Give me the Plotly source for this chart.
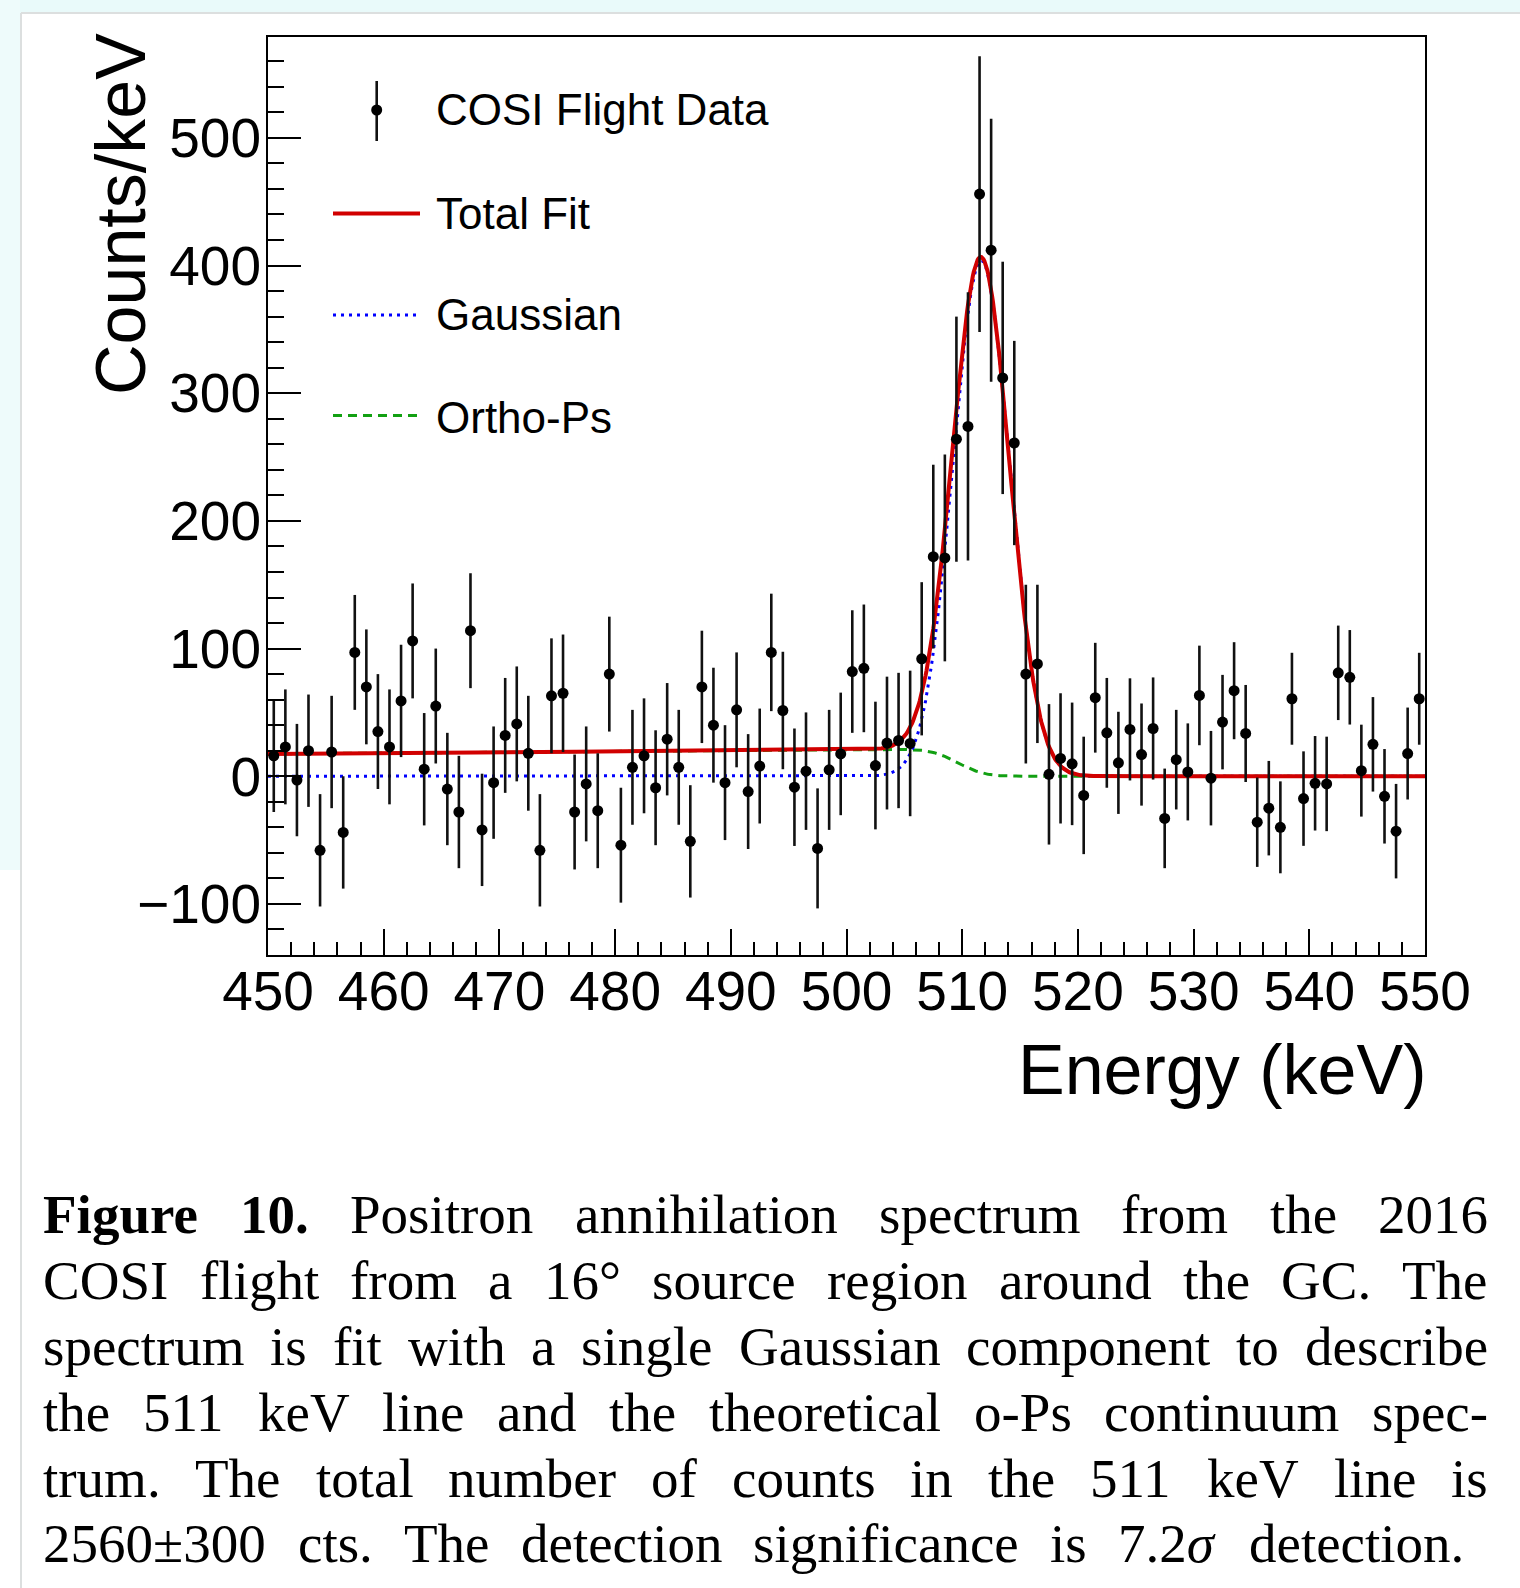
import math
import numpy as np
import plotly.graph_objects as go

# ---------------------------------------------------------------------------
# Spectrum data: background-subtracted counts per 1 keV bin
# ---------------------------------------------------------------------------
energy_kev = [
    450.5, 451.5, 452.5, 453.5, 454.5, 455.5, 456.5, 457.5, 458.5, 459.5,
    460.5, 461.5, 462.5, 463.5, 464.5, 465.5, 466.5, 467.5, 468.5, 469.5,
    470.5, 471.5, 472.5, 473.5, 474.5, 475.5, 476.5, 477.5, 478.5, 479.5,
    480.5, 481.5, 482.5, 483.5, 484.5, 485.5, 486.5, 487.5, 488.5, 489.5,
    490.5, 491.5, 492.5, 493.5, 494.5, 495.5, 496.5, 497.5, 498.5, 499.5,
    500.5, 501.5, 502.5, 503.5, 504.5, 505.5, 506.5, 507.5, 508.5, 509.5,
    510.5, 511.5, 512.5, 513.5, 514.5, 515.5, 516.5, 517.5, 518.5, 519.5,
    520.5, 521.5, 522.5, 523.5, 524.5, 525.5, 526.5, 527.5, 528.5, 529.5,
    530.5, 531.5, 532.5, 533.5, 534.5, 535.5, 536.5, 537.5, 538.5, 539.5,
    540.5, 541.5, 542.5, 543.5, 544.5, 545.5, 546.5, 547.5, 548.5, 549.5,
]

counts_per_kev = [
    16, 23, -3, 20, -58, 19, -44, 97, 70, 35,
    23, 59, 106, 5.5, 55, -10, -28, 114, -42, -5,
    32, 41, 18, -58, 63, 65, -28, -6, -27, 80,
    -54, 7, 16, -9, 29, 7, -51, 70, 40, -5,
    52, -12, 8, 97, 51.5, -8.6, 4, -56.5, 5, 17.5,
    82, 84.5, 8.4, 26, 28, 25.7, 92, 172, 171, 264,
    274, 456, 412, 312, 261, 80, 88, 1.5, 14, 9.7,
    -15, 61.5, 34, 10.5, 36.7, 17, 37.4, -33, 13, 3.4,
    63.3, -1.5, 42.4, 67, 33.5, -36, -25, -40, 60.7, -17.5,
    -5.5, -6, 81, 77.5, 4.4, 25, -15.7, -43, 17.8, 60.7,
]

count_errors = [
    44, 45, 44, 44, 44, 44, 44, 45, 45, 45,
    45, 44, 45, 44, 45, 44, 44, 45, 44, 44,
    45, 45, 45, 44, 45, 46, 45, 45, 45, 45,
    45, 45, 45, 45, 44, 45, 44, 44, 45, 45,
    45, 45, 45, 46, 46, 46, 46, 47, 47, 48,
    48, 50, 50, 52, 53, 57, 60, 72, 81, 96,
    105, 108, 103, 91, 80, 70, 62, 55, 51, 48,
    46, 43, 43, 40, 40, 40, 40, 39, 39, 38,
    39, 37, 37, 38, 38, 35, 37, 36, 36, 37,
    37, 37, 37, 37, 36, 37, 37, 37, 36, 36,
]

# Fit results
GAUSS_AMP = 404.0        # counts/keV
GAUSS_MEAN = 511.64      # keV
GAUSS_SIGMA = 2.45       # keV
OPS_LEVEL_450 = 17.5     # o-Ps continuum level at 450 keV
OPS_SLOPE = 0.065        # counts/keV per keV
OPS_EDGE = 509.6         # keV, resolution-smeared cutoff
OPS_EDGE_WIDTH = 1.8     # keV

x_axis_ticks = [450, 460, 470, 480, 490, 500, 510, 520, 530, 540, 550]
y_axis_ticks = [-100, 0, 100, 200, 300, 400, 500]

# ---------------------------------------------------------------------------
# Fit model curves
# ---------------------------------------------------------------------------
e_grid = np.linspace(450.0, 550.0, 1201)
gauss = GAUSS_AMP * np.exp(-0.5 * ((e_grid - GAUSS_MEAN) / GAUSS_SIGMA) ** 2)
ops = np.array([
    (OPS_LEVEL_450 + OPS_SLOPE * (e - 450.0))
    * 0.5 * math.erfc((e - OPS_EDGE) / (math.sqrt(2.0) * OPS_EDGE_WIDTH))
    for e in e_grid
])
total = gauss + ops

# ---------------------------------------------------------------------------
# Figure geometry (pixels)
# ---------------------------------------------------------------------------
FIG_W, FIG_H = 1520, 1588
L, T, PW, PH = 268, 37, 1157, 918
R = FIG_W - L - PW
B = FIG_H - T - PH


def px(x):
    return (x - L) / PW


def py(y):
    return (T + PH - y) / PH


AX_FONT = "Liberation Sans, Arial, Helvetica, sans-serif"
CAP_FONT = "Liberation Serif, Times New Roman, serif"

RED = "#d10000"
BLUE = "#0000ff"
GREEN = "#12a012"

fig = go.Figure()

fig.add_trace(go.Scatter(
    x=e_grid, y=ops, mode="lines",
    line=dict(color=GREEN, width=3, dash="9px,6px"),
    hoverinfo="skip", showlegend=False,
))
fig.add_trace(go.Scatter(
    x=e_grid, y=gauss, mode="lines",
    line=dict(color=BLUE, width=3, dash="3px,5px"),
    hoverinfo="skip", showlegend=False,
))
fig.add_trace(go.Scatter(
    x=e_grid, y=total, mode="lines",
    line=dict(color=RED, width=4),
    hoverinfo="skip", showlegend=False,
))
fig.add_trace(go.Scatter(
    x=energy_kev, y=counts_per_kev, mode="markers",
    marker=dict(color="black", size=11, line=dict(width=0)),
    error_y=dict(type="data", array=count_errors, visible=True,
                 color="#111111", thickness=2.6, width=0),
    showlegend=False,
))

shapes = []
annotations = []

# page backdrop
shapes.append(dict(type="rect", xref="paper", yref="paper",
                   x0=px(0), x1=px(FIG_W), y0=py(0), y1=py(13),
                   fillcolor="#e9fafa", line=dict(width=0), layer="below"))
shapes.append(dict(type="rect", xref="paper", yref="paper",
                   x0=px(0), x1=px(20), y0=py(0), y1=py(870),
                   fillcolor="#eefbfb", line=dict(width=0), layer="below"))
shapes.append(dict(type="line", xref="paper", yref="paper",
                   x0=px(21), x1=px(21), y0=py(13), y1=py(FIG_H),
                   line=dict(color="#dcdfdf", width=2), layer="below"))
shapes.append(dict(type="line", xref="paper", yref="paper",
                   x0=px(21), x1=px(FIG_W), y0=py(13), y1=py(13),
                   line=dict(color="#dcdfdf", width=2), layer="below"))

# ---------------------------------------------------------------------------
# Legend, drawn by hand to keep the wide symbol samples
# ---------------------------------------------------------------------------
# data entry: marker with error bar
shapes.append(dict(type="line", xref="paper", yref="paper",
                   x0=px(376.7), x1=px(376.7), y0=py(81), y1=py(141),
                   line=dict(color="#111111", width=2.6)))
shapes.append(dict(type="circle", xref="paper", yref="paper",
                   x0=px(371.2), x1=px(382.2), y0=py(104.5), y1=py(115.5),
                   fillcolor="black", line=dict(width=0)))
# line entries
shapes.append(dict(type="line", xref="paper", yref="paper",
                   x0=px(333), x1=px(420), y0=py(213.5), y1=py(213.5),
                   line=dict(color=RED, width=4)))
shapes.append(dict(type="line", xref="paper", yref="paper",
                   x0=px(333), x1=px(420), y0=py(315), y1=py(315),
                   line=dict(color=BLUE, width=3, dash="3px,5px")))
shapes.append(dict(type="line", xref="paper", yref="paper",
                   x0=px(333), x1=px(420), y0=py(415.5), y1=py(415.5),
                   line=dict(color=GREEN, width=3, dash="9px,6px")))

legend_labels = ["COSI Flight Data", "Total Fit", "Gaussian", "Ortho-Ps"]
legend_rows = [109, 214, 315, 418]
for label, row in zip(legend_labels, legend_rows):
    annotations.append(dict(
        xref="paper", yref="paper", x=px(434), y=py(row),
        xanchor="left", yanchor="middle", showarrow=False, text=label,
        font=dict(family=AX_FONT, size=44, color="black"),
    ))

# axis titles
annotations.append(dict(
    xref="paper", yref="paper", x=px(121), y=py(31),
    xanchor="center", yanchor="top", showarrow=False, text="Counts/keV",
    textangle=-90, font=dict(family=AX_FONT, size=70, color="black"),
))
annotations.append(dict(
    xref="paper", yref="paper", x=px(1428), y=py(1070),
    xanchor="right", yanchor="middle", showarrow=False, text="Energy (keV)",
    font=dict(family=AX_FONT, size=70, color="black"),
))

# ---------------------------------------------------------------------------
# Caption, set as justified lines
# ---------------------------------------------------------------------------
TIMES_W = {
    " ": 250, "a": 444, "b": 500, "c": 444, "d": 500, "e": 444, "f": 333,
    "g": 500, "h": 500, "i": 278, "j": 278, "k": 500, "l": 278, "m": 778,
    "n": 500, "o": 500, "p": 500, "q": 500, "r": 333, "s": 389, "t": 278,
    "u": 500, "v": 500, "w": 722, "x": 500, "y": 500, "z": 444,
    "A": 722, "B": 667, "C": 667, "D": 722, "E": 611, "F": 556, "G": 722,
    "H": 722, "I": 333, "J": 389, "K": 722, "L": 611, "M": 889, "N": 722,
    "O": 722, "P": 556, "Q": 722, "R": 667, "S": 556, "T": 611, "U": 722,
    "V": 722, "W": 944, "X": 722, "Y": 722, "Z": 611,
    "0": 500, "1": 500, "2": 500, "3": 500, "4": 500, "5": 500, "6": 500,
    "7": 500, "8": 500, "9": 500, ".": 250, ",": 250, "-": 333,
    "±": 564, "°": 400, "σ": 550,
}
TIMES_BOLD_W = dict(TIMES_W)
TIMES_BOLD_W.update({"F": 611, "u": 556, "r": 444, "g": 500})

CAP_SIZE = 55
caption_lines = [
    ([("Figure", True), ("10.", True), ("Positron", False),
      ("annihilation", False), ("spectrum", False), ("from", False),
      ("the", False), ("2016", False)], 1487),
    ([(w, False) for w in
      "COSI flight from a 16° source region around the GC. The".split()], 1487),
    ([(w, False) for w in
      "spectrum is fit with a single Gaussian component to describe".split()], 1487),
    ([(w, False) for w in
      "the 511 keV line and the theoretical o-Ps continuum spec-".split()], 1487),
    ([(w, False) for w in
      "trum. The total number of counts in the 511 keV line is".split()], 1487),
    ([(w, False) for w in
      "2560±300 cts. The detection significance is 7.2σ detection.".split()], 1463),
]
caption_rows = [1214, 1280, 1346, 1412, 1478, 1543]
CAP_LEFT = 42


def word_width(word, bold):
    table = TIMES_BOLD_W if bold else TIMES_W
    return sum(table.get(ch, 500) for ch in word) * CAP_SIZE / 1000.0


for (words, right), row in zip(caption_lines, caption_rows):
    widths = [word_width(w, b) for w, b in words]
    gap = (right - CAP_LEFT - sum(widths)) / (len(words) - 1)
    xpos = CAP_LEFT
    for (w, bold), wd in zip(words, widths):
        txt = w
        if bold:
            txt = "<b>" + w + "</b>"
        if w.startswith("7.2σ"):
            txt = "7.2<i>σ</i>"
        annotations.append(dict(
            xref="paper", yref="paper", x=px(xpos - 1), y=py(row),
            xanchor="left", yanchor="middle", showarrow=False, text=txt,
            font=dict(family=CAP_FONT, size=CAP_SIZE, color="black"),
        ))
        xpos += wd + gap

fig.update_layout(
    width=FIG_W, height=FIG_H,
    margin=dict(l=L, r=R, t=T, b=B, pad=0),
    paper_bgcolor="white", plot_bgcolor="white",
    showlegend=False,
    shapes=shapes, annotations=annotations,
    xaxis=dict(
        range=[450, 550], tickmode="array", tickvals=x_axis_ticks,
        ticks="inside", ticklen=26, tickwidth=2, tickcolor="black",
        minor=dict(dtick=2, ticks="inside", ticklen=13, tickwidth=2,
                   tickcolor="black", showgrid=False),
        showline=True, linecolor="black", linewidth=2, mirror=True,
        showgrid=False, zeroline=False,
        tickfont=dict(family=AX_FONT, size=55, color="black"),
        ticklabelstandoff=-13,
    ),
    yaxis=dict(
        range=[-140, 579], tickmode="array", tickvals=y_axis_ticks,
        ticks="inside", ticklen=33, tickwidth=2, tickcolor="black",
        minor=dict(dtick=20, ticks="inside", ticklen=16, tickwidth=2,
                   tickcolor="black", showgrid=False),
        showline=True, linecolor="black", linewidth=2, mirror=True,
        showgrid=False, zeroline=False,
        tickfont=dict(family=AX_FONT, size=55, color="black"),
        ticklabelstandoff=-6,
    ),
)

fig.write_html("out.html")
